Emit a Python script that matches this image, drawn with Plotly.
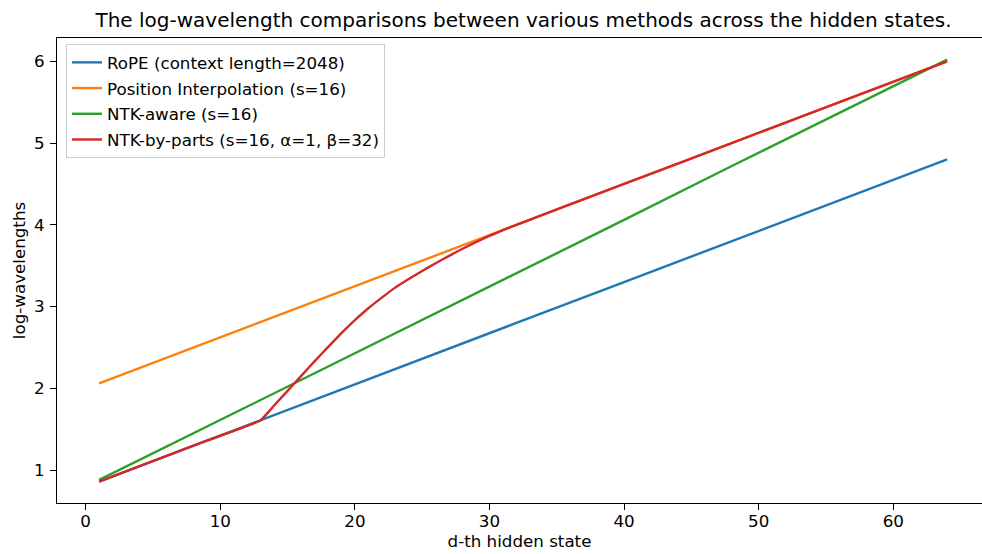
import plotly.graph_objects as go

# Data
d_lines = [1, 8, 16, 24, 32, 40, 48, 56, 64]
rope = [0.86, 1.30, 1.80, 2.30, 2.80, 3.30, 3.80, 4.30, 4.80]
pi = [2.06, 2.50, 3.00, 3.50, 4.00, 4.50, 5.00, 5.50, 6.00]
ntk = [0.88, 1.45, 2.10, 2.76, 3.41, 4.06, 4.72, 5.37, 6.02]

d_parts = [1, 4, 8, 13, 14, 15, 16, 17, 18, 19, 20, 21, 22, 23, 24, 25, 26, 27,
           28, 29, 30, 31, 32, 40, 48, 56, 64]
ntk_parts = [0.86, 1.05, 1.30, 1.61, 1.79, 1.97, 2.15, 2.33, 2.505, 2.675, 2.835,
             2.98, 3.11, 3.232, 3.337, 3.435, 3.53, 3.62, 3.708, 3.789, 3.864, 3.935,
             4.00, 4.50, 5.00, 5.50, 6.00]

names = ["RoPE (context length=2048)", "Position Interpolation (s=16)",
         "NTK-aware (s=16)", "NTK-by-parts (s=16, α=1, β=32)"]
colors = ["#1f77b4", "#ff7f0e", "#2ca02c", "#d62728"]

x_ticks = [0, 10, 20, 30, 40, 50, 60]
y_ticks = [1, 2, 3, 4, 5, 6]

FONT = "DejaVu Sans"
FS = 16.7

fig = go.Figure()
series = [(d_lines, rope), (d_lines, pi), (d_lines, ntk), (d_parts, ntk_parts)]
for i, ((xs, ys), nm, c) in enumerate(zip(series, names, colors)):
    fig.add_trace(go.Scatter(x=xs, y=ys, mode="lines", name=nm,
                             line=dict(color=c, width=2.4, shape="spline", smoothing=0.3)
                             if nm.startswith("NTK-by") else dict(color=c, width=2.4),
                             legendgroup=f"g{i}"))

axis_common = dict(showline=True, linecolor="black", linewidth=1.3,
                   ticks="outside", ticklen=6, tickwidth=1.3, tickcolor="black",
                   showgrid=False, zeroline=False, automargin=False,
                   tickfont=dict(family=FONT, size=FS, color="black"))

fig.update_layout(
    width=982, height=554,
    margin=dict(l=57, r=0, t=38, b=51),
    plot_bgcolor="white", paper_bgcolor="white",
    font=dict(family=FONT, size=FS, color="black"),
    title=dict(text="The log-wavelength comparisons between various methods across the hidden states.",
               x=523.5 / 982, xref="container", xanchor="center",
               y=1 - 20 / 554, yref="container", yanchor="middle",
               automargin=False,
               font=dict(family=FONT, size=20, color="black")),
    xaxis=dict(range=[-2.13, 66.59], tickvals=x_ticks, mirror=True,
               ticklabelstandoff=-3,
               title=dict(text="d-th hidden state", standoff=4,
                          font=dict(family=FONT, size=FS)),
               **axis_common),
    yaxis=dict(range=[0.598, 6.285], tickvals=y_ticks,
               ticklabelstandoff=2,
               title=dict(text="log-wavelengths", standoff=4,
                          font=dict(family=FONT, size=FS)),
               **axis_common),
    legend=dict(x=(66 - 57) / 925, y=1 - (44 - 38) / 465, xanchor="left", yanchor="top",
                bgcolor="rgba(255,255,255,0.8)", bordercolor="#cccccc", borderwidth=1,
                font=dict(family=FONT, size=FS, color="black"),
                tracegroupgap=1),
    showlegend=True,
)

fig.write_html("out.html", config={"displayModeBar": False},
               post_script="document.body.style.margin='0';")
